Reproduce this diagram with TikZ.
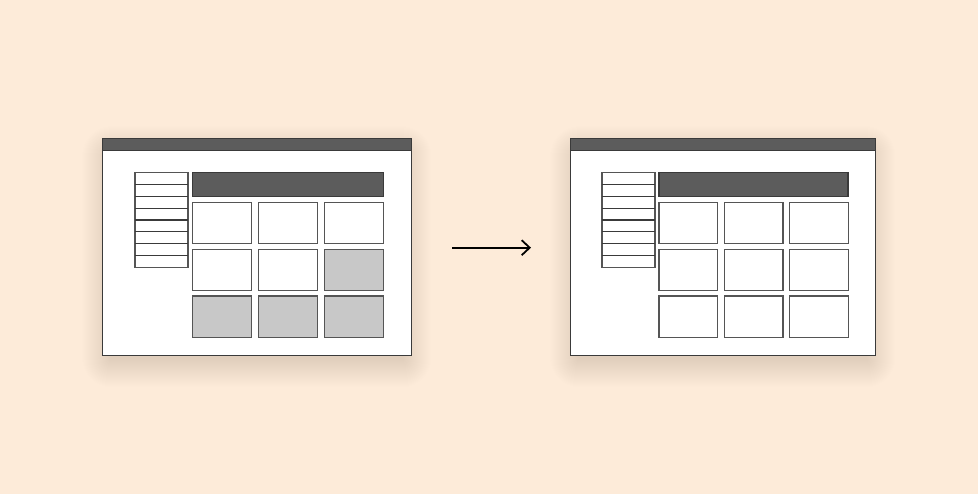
\documentclass[tikz,border=0pt]{standalone}
\usetikzlibrary{arrows.meta,calc}
\definecolor{pagebg}{HTML}{FDEBD9}
\definecolor{barfill}{HTML}{5C5C5C}
\definecolor{barline}{HTML}{3A3A3A}
\definecolor{cardline}{HTML}{555555}
\definecolor{cardgray}{HTML}{C8C8C8}
\definecolor{shadowtone}{HTML}{6A5646}
\tikzset{
  anybox/.style={rectangle, inner sep=0pt, outer sep=0pt},
  winbox/.style={anybox, draw=barline, line width=1.1pt, fill=white},
  titlebar/.style={anybox, draw=barline, line width=1.1pt, fill=barfill},
  headbar/.style={anybox, draw=barline, line width=1.1pt, fill=barfill},
  listbox/.style={anybox, draw=cardline, line width=1.1pt, fill=white},
  listrule/.style={draw=barline, line width=1.1pt},
  card/.style={anybox, draw=cardline, line width=1.2pt, fill=white},
  graycard/.style={card, fill=cardgray},
  flowarrow/.style={draw=black, line width=1.8pt, -{Straight Barb[length=8pt, width=15pt, line width=1.8pt]}}
}
% rectangle node from its corners: style, name, x1, y1, x2, y2
\newcommand\cornerbox[6]{%
  \node[#1, minimum width={(#5-#3)*1pt}, minimum height={(#6-#4)*1pt}]
    (#2) at ({(#3+#5)/2},{(#4+#6)/2}) {};}
% soft drop shadow under a window: x1, y1, x2, y2
\newcommand\softshadow[4]{%
  \foreach \k in {0,...,28}{
    \fill[shadowtone, opacity=0.0042, rounded corners={(\k+1)*1pt}]
      ({#1+8-\k},{#2+16-\k}) rectangle ({#3-8+\k},{#4+4+\k});
  }}
\begin{document}
\begin{tikzpicture}[x=1pt,y=-1pt]
\fill[pagebg] (0,0) rectangle (978,494);
\useasboundingbox (0,0) rectangle (978,494);

% ---------- window before ----------
\softshadow{102.3}{138.3}{411.3}{355.3}
\cornerbox{winbox}{lwin}{102.3}{138.3}{411.3}{355.3}
\cornerbox{titlebar}{ltitle}{102.3}{138.3}{411.3}{150.5}
\cornerbox{listbox}{llist}{135}{172.7}{188}{267.3}
\foreach \i in {1,...,7}{
  \draw[listrule] ($(llist.north west)+(0,{\i*11.83})$) -- ($(llist.north east)+(0,{\i*11.83})$);
}
\cornerbox{headbar}{lhead}{192.3}{172.7}{383.7}{196.7}
\foreach \r in {0,1,2}{
  \foreach \c in {0,1,2}{
    \pgfmathsetmacro\xa{192.3+\c*66}
    \pgfmathsetmacro\ya{202.3+\r*46.85}
    \pgfmathtruncatemacro\isgray{(\r==2) || (\r==1 && \c==2)}
    \ifnum\isgray=1
      \cornerbox{graycard}{lc\r\c}{\xa}{\ya}{\xa+59.4}{\ya+41.2}
    \else
      \cornerbox{card}{lc\r\c}{\xa}{\ya}{\xa+59.4}{\ya+41.2}
    \fi
  }
}

% ---------- window after ----------
\softshadow{570.3}{138.3}{875.3}{355.3}
\cornerbox{winbox}{rwin}{570.3}{138.3}{875.3}{355.3}
\cornerbox{titlebar}{rtitle}{570.3}{138.3}{875.3}{150.5}
\cornerbox{listbox}{rlist}{602}{172.7}{655}{267.3}
\foreach \i in {1,...,7}{
  \draw[listrule] ($(rlist.north west)+(0,{\i*11.83})$) -- ($(rlist.north east)+(0,{\i*11.83})$);
}
\cornerbox{headbar}{rhead}{659}{172.7}{848}{196.7}
\foreach \r in {0,1,2}{
  \foreach \c in {0,1,2}{
    \pgfmathsetmacro\xa{659+\c*65.15}
    \pgfmathsetmacro\ya{202.3+\r*46.85}
    \cornerbox{card}{rc\r\c}{\xa}{\ya}{\xa+58.8}{\ya+41.2}
  }
}

% ---------- arrow between the windows ----------
\coordinate (arrstart) at (452,247.7);
\coordinate (arrend) at (531,247.7);
\draw[flowarrow] (arrstart) -- (arrend);
\end{tikzpicture}
\end{document}
